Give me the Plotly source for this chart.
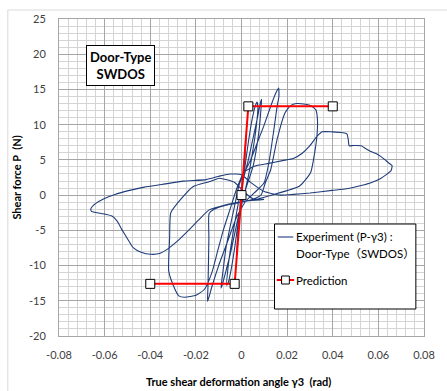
import plotly.graph_objects as go

# ---------------- data ----------------
exp_x = [0, 0.0008, 0.0015, 0.002, 0.0018, 0.001, 0.0, -0.001, -0.0018, -0.0022, -0.0016, -0.0005, 0.0005,
         0.0015, 0.003, 0.0045, 0.006, 0.0068, 0.0072, 0.0062, 0.0048, 0.0032, 0.0015, 0, -0.0015, -0.003, -0.0045,
         -0.0058, -0.0065, -0.0058, -0.0045, -0.003, -0.001, 0.001,
         0.003, 0.005, 0.007, 0.0082, 0.0088, 0.0086, 0.0078, 0.0065, 0.005, 0.003, 0.001, -0.001, -0.003, -0.005,
         -0.007, -0.0085, -0.009, -0.0082, -0.0068, -0.005, -0.003, -0.001, 0.001,
         0.004, 0.007, 0.01, 0.013, 0.0152, 0.0163, 0.0164, 0.0156, 0.0142, 0.012, 0.0099, 0.0057, 0.002, -0.002,
         -0.006, -0.01, -0.0128, -0.0143, -0.0149, -0.0147, -0.0145, -0.0143, -0.0142, -0.012, -0.005, 0.003, 0.0085,
         0.0105, 0.0128, 0.0156, 0.0191, 0.0215, 0.0241, 0.028, 0.0305, 0.0326, 0.0333, 0.0331, 0.0325, 0.0303,
         0.0255, 0.0142, 0.0057, 0.002, -0.003, -0.0097, -0.0142, -0.0213, -0.0263, -0.031, -0.0315, -0.0319,
         -0.0298, -0.0275, -0.0249, -0.0199, -0.0163, -0.013, -0.0105, -0.008, -0.005, -0.002, 0.001,
         0.0057, 0.012, 0.018, 0.0227, 0.0265, 0.0298, 0.033, 0.0354, 0.0397, 0.0445, 0.0462, 0.0468, 0.0472,
         0.049, 0.0524, 0.0545, 0.0567, 0.059, 0.061, 0.063, 0.0644, 0.066, 0.0656, 0.063, 0.061, 0.057, 0.0525,
         0.046, 0.0397, 0.03, 0.0227, 0.017, 0.01, 0.004, 0, -0.005, -0.0097, -0.0155, -0.0255, -0.035, -0.0426,
         -0.05, -0.0555, -0.0603, -0.064, -0.066, -0.0658, -0.0615, -0.0568, -0.0545, -0.0525, -0.05, -0.0475,
         -0.044, -0.0397, -0.036, -0.0326, -0.028, -0.0241, -0.019, -0.0142, -0.006, 0.0, 0.0099]
exp_y = [0, 3, 6, 8.5, 7, 3.5, 0.5, -3, -6.5, -8.5, -6, -2, 1.5,
         4, 7.5, 10.5, 12.6, 13.2, 12.5, 9, 6, 3, 0.5, -1.5, -4, -7.5, -10.5,
         -12.4, -12.8, -10, -7, -4, -0.5, 2.5,
         5, 8, 11, 13, 13.6, 12.5, 9.5, 6.5, 4, 2, 0, -2.5, -5.5, -8.5,
         -11, -12.8, -13.2, -11, -7.5, -4.5, -1.5, 1.5, 3,
         5, 7.5, 10, 12.8, 14.6, 15.2, 14, 12.6, 9.3, 4.6, 1.75, 0.34, -0.8, -3,
         -6.5, -10, -12.8, -14.5, -15.1, -13, -10, -6, -2.6, -2.0, -1.3, -0.8, 0.0,
         1.8, 3.6, 7.9, 11.7, 12.7, 13.0, 12.9, 12.7, 12.1, 10.7, 8.5, 6.9, 3.2,
         1.3, 0.1, -0.6, 0.2, 1.8, 2.4, 1.9, 1.2, -0.47, -2.5, -6, -10.8,
         -12.9, -14.3, -14.5, -14.2, -13.4, -11, -8, -5, -2, 1, 3.2,
         4.1, 4.5, 4.9, 5.2, 5.9, 6.94, 8.3, 8.98, 8.98, 8.85, 8.7, 7.9, 7.0,
         7.05, 7.0, 6.6, 6.2, 5.9, 5.5, 5.0, 4.6, 4.2, 3.5, 2.8, 2.37, 1.8, 1.37,
         0.9, 0.67, 0.3, 0.1, 0.0, 0.5, 1.8, 2.9, 3.0, 2.69, 2.2, 1.98, 1.5, 1.13,
         0.6, 0.1, -0.5, -1.2, -1.9, -2.3, -2.6, -2.97, -3.7, -4.86, -6.2, -7.45,
         -8.1, -8.4, -8.3, -7.7, -6.5, -5.3, -3.6, -2.1, -1.3, -0.9, -0.6]

pred_x = [-0.04, -0.003, 0.0, 0.003, 0.04]
pred_y = [-12.6, -12.6, 0.0, 12.6, 12.6]

x_ticks = [-0.08, -0.06, -0.04, -0.02, 0, 0.02, 0.04, 0.06, 0.08]
x_tick_labels = ["-0.08", "-0.06", "-0.04", "-0.02", "0", "0.02", "0.04", "0.06", "0.08"]
y_ticks = [-20, -15, -10, -5, 0, 5, 10, 15, 20, 25]
y_tick_labels = ["-20", "-15", "-10", "-5", "0", "5", "10", "15", "20", "25"]

exp_name = "Experiment (P-γ3) :<br>Door-Type（SWDOS）"
pred_name = "Prediction"

# ---------------- figure ----------------
FONT = "Lato, 'Liberation Sans', sans-serif"
W, H = 447, 391
L, R, T, B = 58.7, 12.3, 19, 55
pw, ph = W - L - R, H - T - B

def px(xp):
    return (xp - L) / pw

def py(yp):
    return (H - B - yp) / ph

EXP_COLOR = "#1F3C7A"

fig = go.Figure()
fig.add_trace(go.Scatter(x=exp_x, y=exp_y, mode="lines", name=exp_name,
                         line=dict(color=EXP_COLOR, width=1.1, shape="spline", smoothing=0.5),
                         showlegend=False))
fig.add_trace(go.Scatter(x=pred_x, y=pred_y, mode="lines+markers", name=pred_name,
                         line=dict(color="#FF0000", width=2),
                         marker=dict(symbol="square", size=9, color="white",
                                     line=dict(color="black", width=1)),
                         showlegend=False))

MAJOR = "#A6A6A6"
MINOR = "#D4D4D4"

fig.update_xaxes(range=[-0.08, 0.08], tickvals=x_ticks, ticktext=x_tick_labels,
                 showgrid=True, gridcolor=MAJOR, gridwidth=1, zeroline=False,
                 showline=True, linecolor=MAJOR, mirror=True,
                 ticks="outside", ticklen=9, tickcolor="rgba(0,0,0,0)",
                 minor=dict(dtick=0.004, tick0=0, showgrid=True, gridcolor=MINOR, gridwidth=1),
                 tickfont=dict(family=FONT, size=11, color="#404040"))
fig.update_yaxes(range=[-20, 25], tickvals=y_ticks, ticktext=y_tick_labels,
                 showgrid=True, gridcolor=MAJOR, gridwidth=1, zeroline=False,
                 showline=True, linecolor=MAJOR, mirror=True,
                 ticks="outside", ticklen=10, tickcolor="rgba(0,0,0,0)",
                 minor=dict(dtick=1, tick0=0, showgrid=True, gridcolor=MINOR, gridwidth=1),
                 tickfont=dict(family=FONT, size=11, color="#404040"))

shapes = []
# chart area border
shapes.append(dict(type="rect", xref="paper", yref="paper",
                   x0=px(6), x1=px(460), y0=py(400), y1=py(10),
                   line=dict(color="#D9D9D9", width=1), fillcolor="rgba(0,0,0,0)", layer="below"))
# legend box
shapes.append(dict(type="rect", xref="paper", yref="paper",
                   x0=px(280.7), x1=px(426.3), y0=py(309), y1=py(224),
                   line=dict(color="black", width=1), fillcolor="white", layer="above"))
# legend line samples
shapes.append(dict(type="line", xref="paper", yref="paper",
                   x0=px(284), x1=px(300), y0=py(237), y1=py(237),
                   line=dict(color=EXP_COLOR, width=1.1), layer="above"))
shapes.append(dict(type="line", xref="paper", yref="paper",
                   x0=px(283), x1=px(301), y0=py(280), y1=py(280),
                   line=dict(color="#FF0000", width=2), layer="above"))
shapes.append(dict(type="rect", xref="paper", yref="paper",
                   x0=px(288), x1=px(296), y0=py(284), y1=py(276),
                   line=dict(color="black", width=1), fillcolor="white", layer="above"))

annotations = [
    dict(text="<b>Door-Type<br>SWDOS</b>", xref="paper", yref="paper",
         x=px(122.5), y=py(65.7), showarrow=False, xanchor="center", yanchor="middle",
         font=dict(family=FONT, size=13, color="black"),
         bordercolor="black", borderwidth=1, borderpad=3, bgcolor="white"),
    dict(text="<b>True shear deformation angle γ3  (rad)</b>", xref="paper", yref="paper",
         x=px(244), y=py(381), showarrow=False, xanchor="center", yanchor="middle",
         font=dict(family=FONT, size=11, color="black")),
    dict(text="<b>Shear force P  (N)</b>", xref="paper", yref="paper",
         x=px(14), y=py(178), showarrow=False, xanchor="center", yanchor="middle",
         textangle=-90, font=dict(family=FONT, size=11, color="black")),
    dict(text="Experiment (P-γ3) :", xref="paper", yref="paper",
         x=px(301), y=py(237), showarrow=False, xanchor="left", yanchor="middle",
         font=dict(family=FONT, size=11.5, color="black")),
    dict(text="Door-Type（SWDOS）", xref="paper", yref="paper",
         x=px(301), y=py(253), showarrow=False, xanchor="left", yanchor="middle",
         font=dict(family=FONT + ", 'Noto Sans CJK JP'", size=11.5, color="black")),
    dict(text="Prediction", xref="paper", yref="paper",
         x=px(301), y=py(280), showarrow=False, xanchor="left", yanchor="middle",
         font=dict(family=FONT, size=11.5, color="black")),
]

fig.update_layout(width=W, height=H, margin=dict(l=L, r=R, t=T, b=B),
                  paper_bgcolor="white", plot_bgcolor="white",
                  shapes=shapes, annotations=annotations, showlegend=False,
                  font=dict(family=FONT))

fig.write_html("out.html")
